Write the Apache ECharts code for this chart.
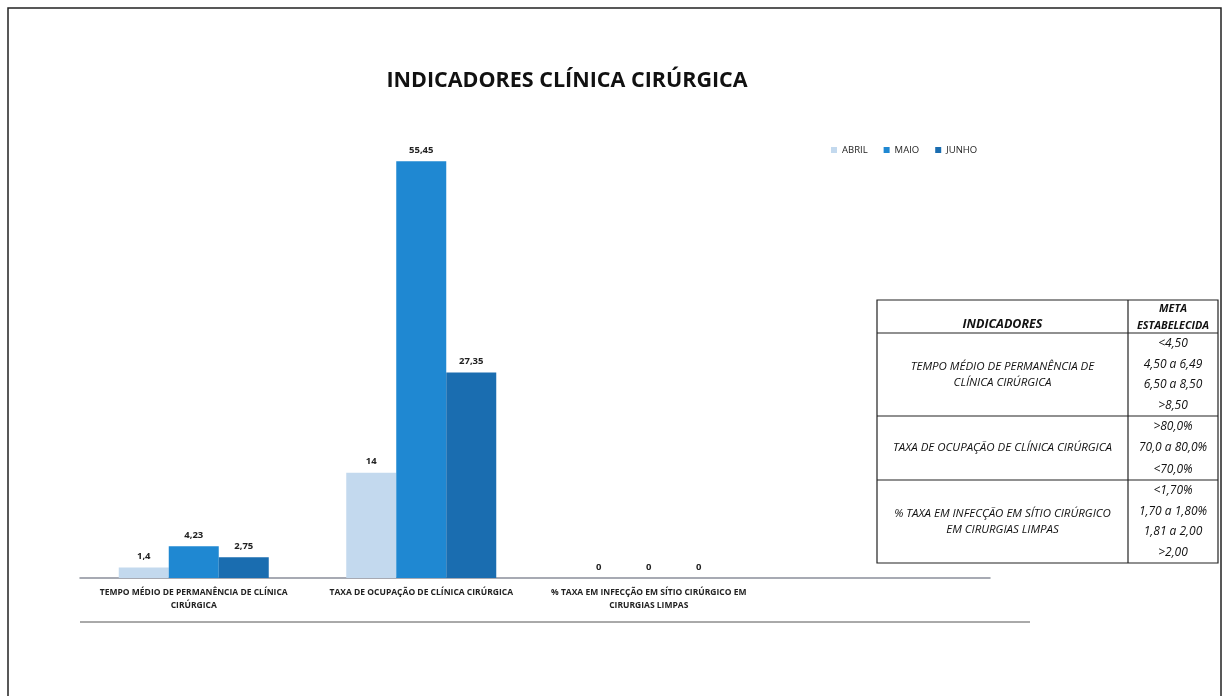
<!DOCTYPE html>
<html>
<head>
<meta charset="utf-8">
<script src="https://cdn.jsdelivr.net/npm/echarts@6/dist/echarts.min.js"></script>
<style>
html,body{margin:0;padding:0;background:#fff;}
#chart{width:1228px;height:696px;}
</style>
</head>
<body>
<div id="chart"></div>
<script>
// ---- data ----
// NOTE: values are the printed data labels of the reference. In the reference image
// the bars for 14 (ABRIL) and 27,35 (JUNHO) are drawn taller than these labels imply
// (the original chart is not to scale); here all bars follow one linear scale.
const categories = [
  'TEMPO MÉDIO DE PERMANÊNCIA DE CLÍNICA\nCIRÚRGICA',
  'TAXA DE OCUPAÇÃO DE CLÍNICA CIRÚRGICA',
  '% TAXA EM INFECÇÃO EM SÍTIO CIRÚRGICO EM\nCIRURGIAS LIMPAS',
  ''
];
const seriesNames = ['ABRIL', 'MAIO', 'JUNHO'];
const abril = [1.4, 14, 0, null];
const maio = [4.23, 55.45, 0, null];
const junho = [2.75, 27.35, 0, null];

const tableHeader = ['INDICADORES', 'META\nESTABELECIDA'];
const tableIndicators = [
  'TEMPO MÉDIO DE PERMANÊNCIA DE\nCLÍNICA CIRÚRGICA',
  'TAXA DE OCUPAÇÃO DE CLÍNICA CIRÚRGICA',
  '% TAXA EM INFECÇÃO EM SÍTIO CIRÚRGICO\nEM CIRURGIAS LIMPAS'
];
const tableMetas = [
  ['<4,50', '4,50 a 6,49', '6,50 a 8,50', '>8,50'],
  ['>80,0%', '70,0 a 80,0%', '<70,0%'],
  ['<1,70%', '1,70 a 1,80%', '1,81 a 2,00', '>2,00']
];

const colors = ['#c3d9ee', '#1f88d2', '#1a6db0'];
const FONT = 'Open Sans';

// ---- table graphics ----
const tX0 = 877, tX1 = 1128, tX2 = 1218;
const rowLines = [300, 333, 416, 480, 563];
const g = [];
// frame
g.push({type:'rect', shape:{x:8, y:8, width:1213, height:700}, style:{fill:null, stroke:'#222', lineWidth:1.5}, silent:true});
// title
g.push({type:'text', x:567, y:70, style:{text:'INDICADORES CLÍNICA CIRÚRGICA', textAlign:'center', fontFamily:FONT, fontSize:21.5, fontWeight:'bold', fill:'#111'}});
// line under category labels
g.push({type:'line', shape:{x1:80, y1:622, x2:1030, y2:622}, style:{stroke:'#555', lineWidth:1}});
// table outer lines
g.push({type:'rect', shape:{x:tX0, y:rowLines[0], width:tX2-tX0, height:rowLines[4]-rowLines[0]}, style:{fill:'#fff', stroke:'#222', lineWidth:1.2}});
g.push({type:'line', shape:{x1:tX1, y1:rowLines[0], x2:tX1, y2:rowLines[4]}, style:{stroke:'#222', lineWidth:1.2}});
for (let i = 1; i < 4; i++) {
  g.push({type:'line', shape:{x1:tX0, y1:rowLines[i], x2:tX2, y2:rowLines[i]}, style:{stroke:'#222', lineWidth:1.2}});
}
const tStyle = {fontFamily:FONT, fontStyle:'italic', fontSize:12, fill:'#111', textAlign:'center', textVerticalAlign:'middle', lineHeight:16};
g.push({type:'text', x:(tX0+tX1)/2, y:324, style:Object.assign({}, tStyle, {text:tableHeader[0], fontWeight:'bold', fontSize:12.5})});
g.push({type:'text', x:(tX1+tX2)/2, y:317, style:Object.assign({}, tStyle, {text:tableHeader[1], fontWeight:'bold', fontSize:10.8, lineHeight:17})});
for (let r = 0; r < 3; r++) {
  const yTop = rowLines[r+1], yBot = rowLines[r+2];
  g.push({type:'text', x:(tX0+tX1)/2, y:(yTop+yBot)/2, style:Object.assign({}, tStyle, {text:tableIndicators[r], fontSize:11.5})});
  const metas = tableMetas[r];
  const step = (yBot - yTop) / metas.length;
  metas.forEach((m, k) => {
    g.push({type:'text', x:(tX1+tX2)/2, y:yTop + step*(k+0.5), style:Object.assign({}, tStyle, {text:m})});
  });
}

const fmt = p => String(p.value).replace('.', ',');
const mkSeries = (name, data, i) => ({
  name, type:'bar', data, barWidth:50, barGap:'0%',
  itemStyle:{color:colors[i]},
  label:{show:true, position:'top', formatter:fmt, fontSize:9.5, fontWeight:'bold', color:'#222', fontFamily:FONT, distance:6}
});

const chart = echarts.init(document.getElementById('chart'));
chart.setOption({
  animation:false,
  backgroundColor:'#fff',
  legend:{
    data:seriesNames, left:826, top:140, itemWidth:6, itemHeight:6, itemGap:16,
    icon:'rect',
    textStyle:{fontSize:9.5, color:'#222', fontFamily:FONT}
  },
  grid:{left:80, right:238, top:157, bottom:118},
  xAxis:{
    type:'category', data:categories,
    axisLine:{lineStyle:{color:'#8a8f9a', width:1.5}},
    axisTick:{show:false},
    axisLabel:{interval:0, fontSize:8.5, fontWeight:'bold', color:'#222', fontFamily:FONT, margin:8, lineHeight:13}
  },
  yAxis:{type:'value', min:0, max:56, show:false, splitLine:{show:false}},
  series:[mkSeries('ABRIL', abril, 0), mkSeries('MAIO', maio, 1), mkSeries('JUNHO', junho, 2)],
  graphic:g
});
</script>
</body>
</html>
